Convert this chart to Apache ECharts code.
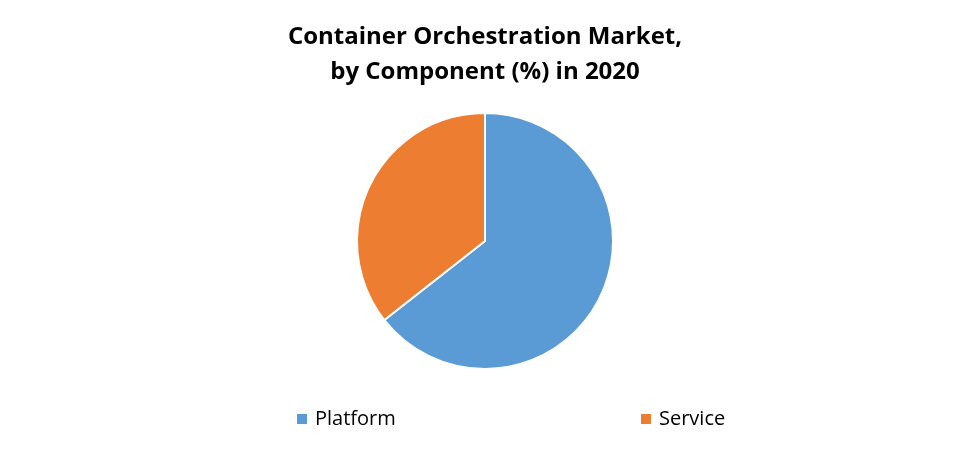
<!DOCTYPE html>
<html>
<head>
<meta charset="utf-8">
<script src="https://cdn.jsdelivr.net/npm/echarts@6/dist/echarts.min.js"></script>
<style>
  html, body { margin: 0; padding: 0; background: #fff; }
  #chart { width: 970px; height: 449px; }
</style>
</head>
<body>
<div id="chart"></div>
<script>
// data
const categories = ['Platform', 'Service'];
const shares = [64.4, 35.6];
const colors = ['#5B9BD5', '#ED7D31'];

const chart = echarts.init(document.getElementById('chart'));

const legendText = {
  fontFamily: 'Open Sans',
  fontSize: 20,
  color: '#000',
  padding: [0, 0, 0, 3]
};

chart.setOption({
  animation: false,
  title: {
    text: 'Container Orchestration Market,\nby Component (%) in 2020',
    left: 'center',
    top: 15,
    textStyle: {
      fontFamily: 'Open Sans',
      fontWeight: 'bold',
      fontSize: 24,
      lineHeight: 35,
      color: '#000'
    }
  },
  legend: [
    {
      data: [categories[0]],
      left: 292,
      top: 404,
      icon: 'rect',
      itemWidth: 10,
      itemHeight: 10,
      itemStyle: { borderWidth: 0 },
      textStyle: legendText
    },
    {
      data: [categories[1]],
      left: 636,
      top: 404,
      icon: 'rect',
      itemWidth: 10,
      itemHeight: 10,
      itemStyle: { borderWidth: 0 },
      textStyle: legendText
    }
  ],
  series: [
    {
      type: 'pie',
      center: [485, 241],
      radius: 128,
      startAngle: 90,
      clockwise: true,
      label: { show: false },
      labelLine: { show: false },
      emphasis: { disabled: true },
      itemStyle: { borderColor: '#fff', borderWidth: 2 },
      data: categories.map((name, i) => ({
        name: name,
        value: shares[i],
        itemStyle: { color: colors[i] }
      }))
    }
  ]
});

window.onresize = function () {
  chart.resize();
};
</script>
</body>
</html>
